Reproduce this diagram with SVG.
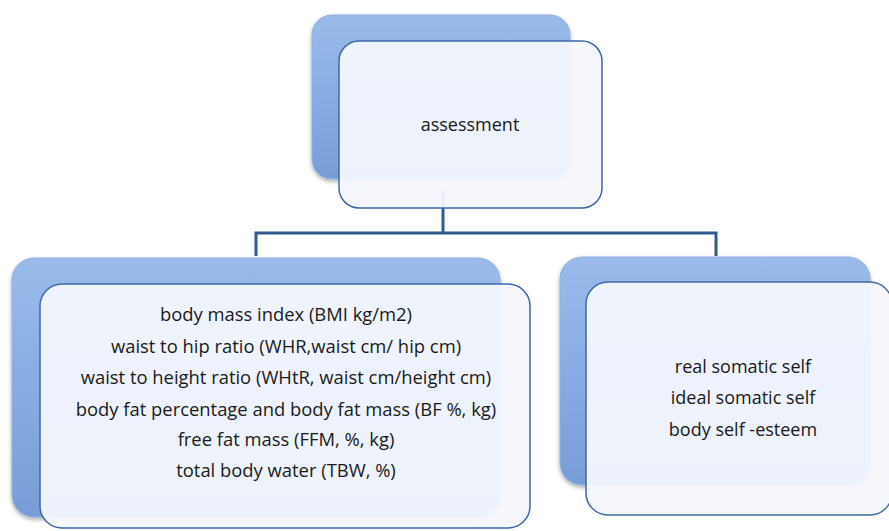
<svg xmlns="http://www.w3.org/2000/svg" width="889" height="531" viewBox="0 0 889 531">
<defs>
<linearGradient id="backGrad" x1="0" y1="0" x2="0" y2="1">
<stop offset="0" stop-color="#9ABBEA"/>
<stop offset="0.5" stop-color="#88ACE3"/>
<stop offset="1" stop-color="#789DD6"/>
</linearGradient>
<filter id="soft" x="-5%" y="-5%" width="110%" height="115%">
<feGaussianBlur in="SourceAlpha" stdDeviation="2"/>
<feOffset dx="0" dy="2" result="b"/>
<feComponentTransfer><feFuncA type="linear" slope="0.35"/></feComponentTransfer>
<feMerge><feMergeNode/><feMergeNode in="SourceGraphic"/></feMerge>
</filter>
</defs>
<style>
.back{fill:url(#backGrad);stroke:#8FB0E2;stroke-width:1;filter:url(#soft);}
.front{fill:#F4F6FD;fill-opacity:0.94;stroke:#3D6AA6;stroke-width:1.5;}
.txt{font-family:"Open Sans","Liberation Sans",Arial,sans-serif;font-size:18px;fill:#1A1A1A;text-anchor:middle;}
.list{font-size:18.4px;}
.conn{fill:none;stroke:#2F5B8F;stroke-width:3;}
</style>
<rect width="889" height="531" fill="#FFFFFF"/>
<g id="connectors">
<path class="conn" d="M443,190 V233 M256,256 V233 H716 V256"/>
</g>
<g id="node-assessment">
<rect class="back" x="312" y="15" width="258" height="164" rx="20"/>
<rect class="front" x="339" y="41" width="263" height="167" rx="20"/>
<text class="txt" x="470" y="131">assessment</text>
</g>
<g id="node-anthropometric">
<rect class="back" x="12" y="258" width="488" height="259" rx="22"/>
<rect class="front" x="40" y="284" width="490" height="244" rx="22"/>
<text class="txt list" x="286" y="321">body mass index (BMI kg/m2)</text>
<text class="txt list" x="286" y="353">waist to hip ratio (WHR,waist cm/ hip cm)</text>
<text class="txt list" x="286" y="384">waist to height ratio (WHtR, waist cm/height cm)</text>
<text class="txt list" x="286" y="416">body fat percentage and body fat mass (BF %, kg)</text>
<text class="txt list" x="286" y="446">free fat mass (FFM, %, kg)</text>
<text class="txt list" x="286" y="477">total body water (TBW, %)</text>
</g>
<g id="node-self">
<rect class="back" x="560" y="257" width="310" height="228" rx="22"/>
<rect class="front" x="586" y="282" width="306" height="233" rx="22"/>
<text class="txt" x="743" y="373">real somatic self</text>
<text class="txt" x="743" y="404">ideal somatic self</text>
<text class="txt" x="743" y="436">body self -esteem</text>
</g>
</svg>
